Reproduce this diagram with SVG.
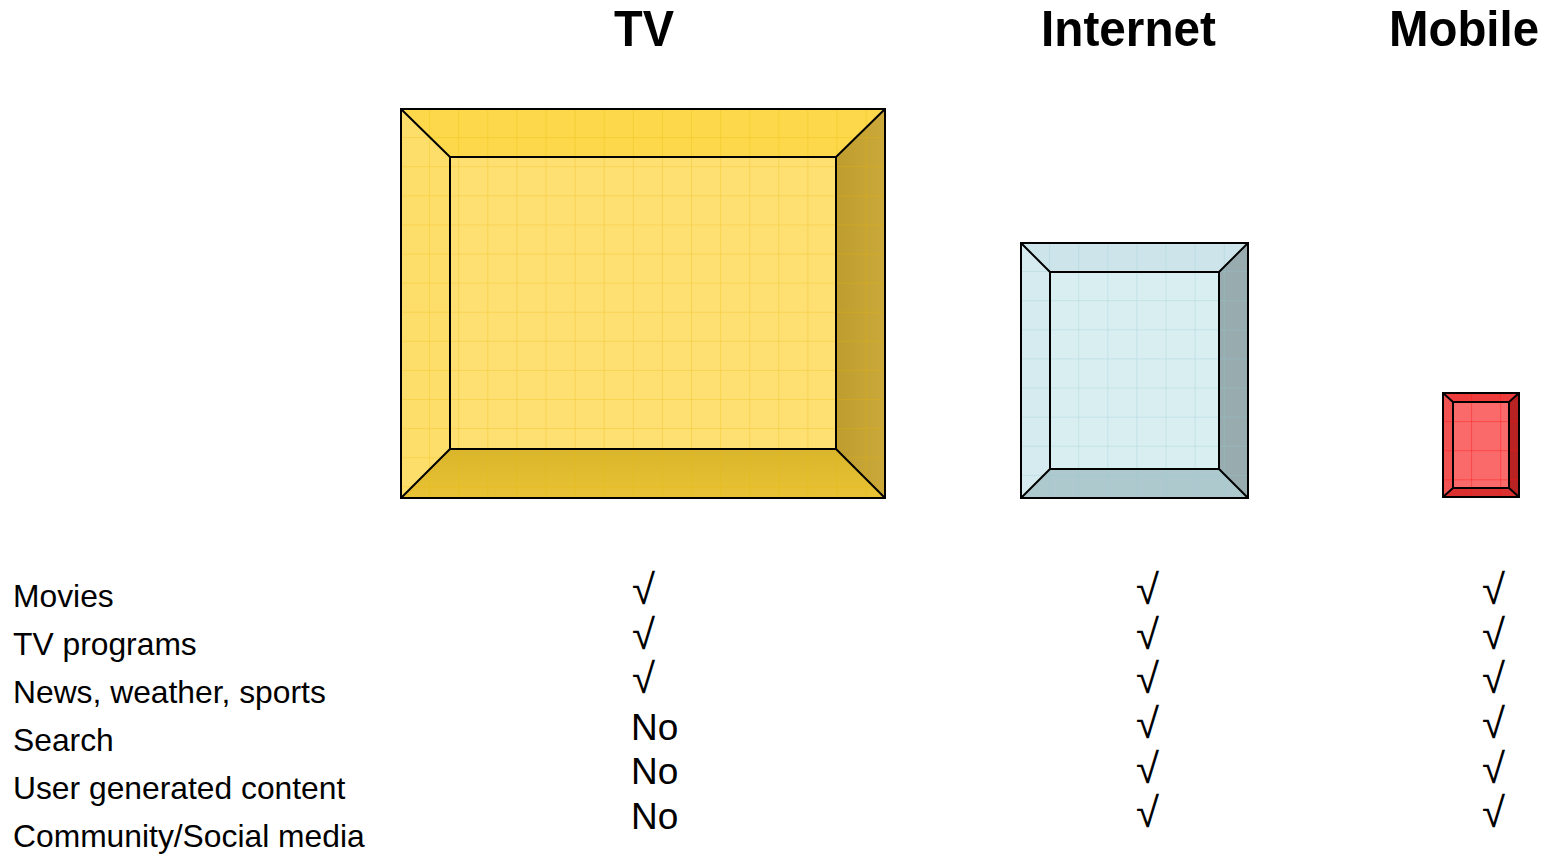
<svg xmlns="http://www.w3.org/2000/svg" width="1549" height="854" viewBox="0 0 1549 854">
  <style>
    .title { font-family: "Liberation Sans", Arial, sans-serif; font-weight: bold; font-size: 50px; fill: #000; }
    .row { font-family: "Liberation Sans", Arial, sans-serif; font-size: 31.8px; fill: #000; }
    .mark { font-family: "Liberation Sans", Arial, sans-serif; font-size: 42px; fill: #000; }
    .no { font-family: "Liberation Sans", Arial, sans-serif; font-size: 37px; fill: #000; }
    .edge { stroke: #000; stroke-width: 2; stroke-linejoin: miter; }
    .frame { fill: none; stroke: #000; stroke-width: 2; }
  </style>
  <defs>
    <!-- tile grids, each anchored at its box corner -->
    <pattern id="gridTV" patternUnits="userSpaceOnUse" x="401" y="109" width="29.1" height="29.1">
      <path d="M29.1 0V29.1M0 29.1H29.1" fill="none" stroke="#E6B400" stroke-opacity="0.55" stroke-width="1"/>
    </pattern>
    <pattern id="gridNet" patternUnits="userSpaceOnUse" x="1021" y="243" width="29.1" height="29.1">
      <path d="M29.1 0V29.1M0 29.1H29.1" fill="none" stroke="#8FC6CE" stroke-opacity="0.6" stroke-width="1"/>
    </pattern>
    <pattern id="gridMob" patternUnits="userSpaceOnUse" x="1443" y="393" width="29.1" height="29.1">
      <path d="M29.1 0V29.1M0 29.1H29.1" fill="none" stroke="#FF1010" stroke-opacity="0.8" stroke-width="1"/>
    </pattern>
    <linearGradient id="tvBottom" x1="0" y1="0" x2="0" y2="1">
      <stop offset="0" stop-color="#D9B52C"/>
      <stop offset="1" stop-color="#E9C334"/>
    </linearGradient>
    <linearGradient id="tvRight" x1="0" y1="0" x2="1" y2="0">
      <stop offset="0" stop-color="#BE9D2E"/>
      <stop offset="1" stop-color="#CBA83A"/>
    </linearGradient>
  </defs>

  <!-- column headings -->
  <g id="headings">
    <text class="title" x="614" y="46" textLength="60" lengthAdjust="spacingAndGlyphs">TV</text>
    <text class="title" x="1041" y="46" textLength="175" lengthAdjust="spacingAndGlyphs">Internet</text>
    <text class="title" x="1389" y="46" textLength="150" lengthAdjust="spacingAndGlyphs">Mobile</text>
  </g>

  <!-- TV screen: bevelled tile -->
  <g id="tv">
    <polygon points="401,109 885,109 836,157 450,157" fill="#FCD84A"/>
    <polygon points="401,109 450,157 450,449 401,498" fill="#FEDE6A"/>
    <polygon points="885,109 885,498 836,449 836,157" fill="url(#tvRight)"/>
    <polygon points="401,498 450,449 836,449 885,498" fill="url(#tvBottom)"/>
    <rect x="450" y="157" width="386" height="292" fill="#FEDF72"/>
    <rect x="401" y="109" width="484" height="389" fill="url(#gridTV)"/>
    <path class="edge" d="M401 109L450 157M885 109L836 157M401 498L450 449M885 498L836 449" fill="none"/>
    <rect class="frame" x="450" y="157" width="386" height="292"/>
    <rect class="frame" x="401" y="109" width="484" height="389"/>
  </g>

  <!-- Internet screen -->
  <g id="internet">
    <polygon points="1021,243 1248,243 1219,272 1050,272" fill="#CDE5EA"/>
    <polygon points="1021,243 1050,272 1050,469 1021,498" fill="#D5EBEF"/>
    <polygon points="1248,243 1248,498 1219,469 1219,272" fill="#98ACB0"/>
    <polygon points="1021,498 1050,469 1219,469 1248,498" fill="#AEC9CE"/>
    <rect x="1050" y="272" width="169" height="197" fill="#D9EEF1"/>
    <rect x="1021" y="243" width="227" height="255" fill="url(#gridNet)"/>
    <path class="edge" d="M1021 243L1050 272M1248 243L1219 272M1021 498L1050 469M1248 498L1219 469" fill="none"/>
    <rect class="frame" x="1050" y="272" width="169" height="197"/>
    <rect class="frame" x="1021" y="243" width="227" height="255"/>
  </g>

  <!-- Mobile screen -->
  <g id="mobile">
    <polygon points="1443,393 1519,393 1509,402 1453,402" fill="#EE3C3C"/>
    <polygon points="1443,393 1453,402 1453,488 1443,497" fill="#F25252"/>
    <polygon points="1519,393 1519,497 1509,488 1509,402" fill="#B82222"/>
    <polygon points="1443,497 1453,488 1509,488 1519,497" fill="#DA3030"/>
    <rect x="1453" y="402" width="56" height="86" fill="#FA6A6A"/>
    <rect x="1443" y="393" width="76" height="104" fill="url(#gridMob)"/>
    <path class="edge" d="M1443 393L1453 402M1519 393L1509 402M1443 497L1453 488M1519 497L1509 488" fill="none"/>
    <rect class="frame" x="1453" y="402" width="56" height="86"/>
    <rect class="frame" x="1443" y="393" width="76" height="104"/>
  </g>

  <!-- feature labels -->
  <g id="features">
    <text class="row" x="13" y="607">Movies</text>
    <text class="row" x="13" y="655">TV programs</text>
    <text class="row" x="13" y="703">News, weather, sports</text>
    <text class="row" x="13" y="751">Search</text>
    <text class="row" x="13" y="799">User generated content</text>
    <text class="row" x="13" y="847">Community/Social media</text>
  </g>

  <!-- TV column marks -->
  <g id="tv-marks">
    <text class="mark" x="632" y="604">√</text>
    <text class="mark" x="632" y="649">√</text>
    <text class="mark" x="632" y="693">√</text>
    <text class="no" x="631" y="739.5">No</text>
    <text class="no" x="631" y="784">No</text>
    <text class="no" x="631" y="828.5">No</text>
  </g>

  <!-- Internet column marks -->
  <g id="internet-marks">
    <text class="mark" x="1136" y="604">√</text>
    <text class="mark" x="1136" y="649">√</text>
    <text class="mark" x="1136" y="693">√</text>
    <text class="mark" x="1136" y="738">√</text>
    <text class="mark" x="1136" y="783">√</text>
    <text class="mark" x="1136" y="827">√</text>
  </g>

  <!-- Mobile column marks -->
  <g id="mobile-marks">
    <text class="mark" x="1482" y="604">√</text>
    <text class="mark" x="1482" y="649">√</text>
    <text class="mark" x="1482" y="693">√</text>
    <text class="mark" x="1482" y="738">√</text>
    <text class="mark" x="1482" y="783">√</text>
    <text class="mark" x="1482" y="827">√</text>
  </g>
</svg>
